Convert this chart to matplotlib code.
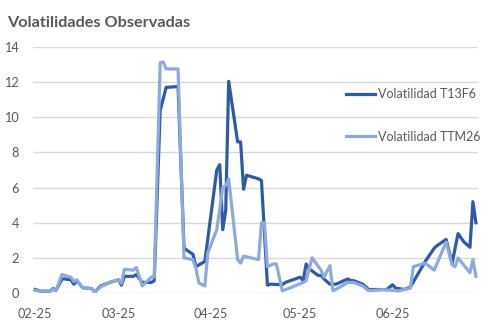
import pandas as pd
import matplotlib
matplotlib.use("Agg")
import matplotlib.pyplot as plt
import matplotlib.dates as mdates

plt.rcParams["font.family"] = ["Lato", "DejaVu Sans"]

# Volatilidad T13F6
t13_dates = [
    "2025-02-01", "2025-02-03", "2025-02-06", "2025-02-07", "2025-02-08",
    "2025-02-10", "2025-02-11", "2025-02-13", "2025-02-14", "2025-02-15",
    "2025-02-17", "2025-02-20", "2025-02-21", "2025-02-23", "2025-02-26",
    "2025-03-01", "2025-03-02", "2025-03-03", "2025-03-06", "2025-03-07",
    "2025-03-09", "2025-03-12", "2025-03-13", "2025-03-15", "2025-03-17",
    "2025-03-21", "2025-03-23", "2025-03-26", "2025-03-27", "2025-03-30",
    "2025-04-03", "2025-04-04", "2025-04-05", "2025-04-06", "2025-04-07",
    "2025-04-10", "2025-04-11", "2025-04-12", "2025-04-13", "2025-04-17",
    "2025-04-18", "2025-04-20", "2025-04-21", "2025-04-25", "2025-04-26",
    "2025-05-01", "2025-05-02", "2025-05-03", "2025-05-04", "2025-05-07",
    "2025-05-08", "2025-05-09", "2025-05-11", "2025-05-13", "2025-05-17",
    "2025-05-18", "2025-05-19", "2025-05-22", "2025-05-24", "2025-05-27",
    "2025-05-30", "2025-06-01", "2025-06-02", "2025-06-05", "2025-06-07",
    "2025-06-12", "2025-06-15", "2025-06-16", "2025-06-19", "2025-06-21",
    "2025-06-23", "2025-06-25", "2025-06-27", "2025-06-28", "2025-06-29",
]
t13_vol = [
    0.2, 0.1, 0.1, 0.25, 0.15,
    0.8, 0.8, 0.75, 0.5, 0.7,
    0.3, 0.25, 0.05, 0.4, 0.6,
    0.75, 0.45, 0.95, 0.95, 1.05,
    0.6, 0.6, 0.7, 10.4, 11.7,
    11.75, 2.55, 2.2, 1.5, 1.8,
    7.0, 7.3, 3.6, 4.7, 12.05,
    8.6, 8.6, 5.9, 6.7, 6.5,
    6.4, 0.45, 0.5, 0.47, 0.6,
    0.9, 0.7, 1.65, 1.38, 1.0,
    1.0, 0.8, 0.5, 0.5, 0.8,
    0.7, 0.7, 0.5, 0.2, 0.2,
    0.19, 0.47, 0.28, 0.2, 0.34,
    1.8, 2.55, 2.7, 3.05, 1.69,
    3.38, 2.9, 2.6, 5.2, 4.0,
]

# Volatilidad TTM26
ttm_dates = [
    "2025-02-01", "2025-02-03", "2025-02-06", "2025-02-07", "2025-02-08",
    "2025-02-10", "2025-02-11", "2025-02-13", "2025-02-14", "2025-02-15",
    "2025-02-17", "2025-02-20", "2025-02-21", "2025-02-23", "2025-02-26",
    "2025-03-01", "2025-03-02", "2025-03-03", "2025-03-06", "2025-03-07",
    "2025-03-09", "2025-03-12", "2025-03-13", "2025-03-15", "2025-03-16",
    "2025-03-17", "2025-03-21", "2025-03-23", "2025-03-26", "2025-03-27",
    "2025-03-28", "2025-03-30", "2025-03-31", "2025-04-03", "2025-04-05",
    "2025-04-06", "2025-04-07", "2025-04-10", "2025-04-11", "2025-04-12",
    "2025-04-17", "2025-04-18", "2025-04-19", "2025-04-20", "2025-04-22",
    "2025-04-23", "2025-04-25", "2025-04-27", "2025-05-02", "2025-05-03",
    "2025-05-05", "2025-05-08", "2025-05-09", "2025-05-11", "2025-05-12",
    "2025-05-14", "2025-05-17", "2025-05-19", "2025-05-22", "2025-05-24",
    "2025-05-29", "2025-06-03", "2025-06-07", "2025-06-08", "2025-06-12",
    "2025-06-15", "2025-06-19", "2025-06-21", "2025-06-22", "2025-06-23",
    "2025-06-27", "2025-06-28", "2025-06-29",
]
ttm_vol = [
    0.15, 0.1, 0.1, 0.2, 0.15,
    1.05, 1.0, 0.9, 0.65, 0.75,
    0.3, 0.25, 0.05, 0.35, 0.6,
    0.75, 0.55, 1.35, 1.3, 1.45,
    0.4, 0.9, 0.9, 13.1, 13.15,
    12.75, 12.75, 2.0, 1.9, 1.4,
    0.57, 0.4, 2.3, 3.6, 6.0,
    6.1, 6.5, 1.9, 1.7, 2.1,
    1.9, 4.0, 4.0, 1.5, 1.65,
    1.66, 0.13, 0.25, 0.6, 0.7,
    2.0, 1.3, 0.9, 1.56, 0.13,
    0.3, 0.6, 0.6, 0.4, 0.13,
    0.19, 0.12, 0.28, 1.5, 1.7,
    1.3, 2.9, 1.6, 1.5, 2.0,
    1.15, 1.9, 0.95,
]

month_ticks = ["2025-02-01", "2025-03-01", "2025-04-01", "2025-05-01", "2025-06-01"]

DARK = "#2F5AA8"
LIGHT = "#8EA9DB"
TEXT = "#595959"
GRID = "#D9D9D9"

fig = plt.figure(figsize=(4.88, 3.26), dpi=100)
ax = fig.add_axes([33 / 488, 1 - 293 / 326, 445 / 488, 246 / 326])

ax.plot(pd.to_datetime(t13_dates), t13_vol, color=DARK, linewidth=2.3,
        solid_joinstyle="round", label="Volatilidad T13F6")
ax.plot(pd.to_datetime(ttm_dates), ttm_vol, color=LIGHT, linewidth=2.3,
        solid_joinstyle="round", label="Volatilidad TTM26")

start = pd.Timestamp("2025-02-01")
ax.set_xlim(start - pd.Timedelta(days=0.7), start + pd.Timedelta(days=148.7))
ax.set_ylim(0, 14)
ax.set_yticks(range(0, 15, 2))
ax.set_xticks(pd.to_datetime(month_ticks))
ax.xaxis.set_major_formatter(mdates.DateFormatter("%m-%y"))

ax.grid(axis="y", color=GRID, linewidth=1)
ax.set_axisbelow(True)
for side in ax.spines.values():
    side.set_visible(False)
ax.tick_params(length=0, colors=TEXT, labelsize=9.2)
ax.tick_params(axis="y", pad=10)
ax.tick_params(axis="x", pad=11)

ax.legend(loc="upper left", bbox_to_anchor=(346 / 488, 1 - 88 / 326),
          bbox_transform=fig.transFigure, frameon=False, fontsize=9,
          labelcolor=TEXT, handlelength=2.3, handletextpad=0.25,
          labelspacing=2.45, borderaxespad=0, borderpad=0)

fig.text(7 / 488, 1 - 23 / 326, "Volatilidades Observadas", color=TEXT,
         fontsize=11.7, fontweight="bold", va="center", ha="left")

fig.savefig("out.png", dpi=100)
